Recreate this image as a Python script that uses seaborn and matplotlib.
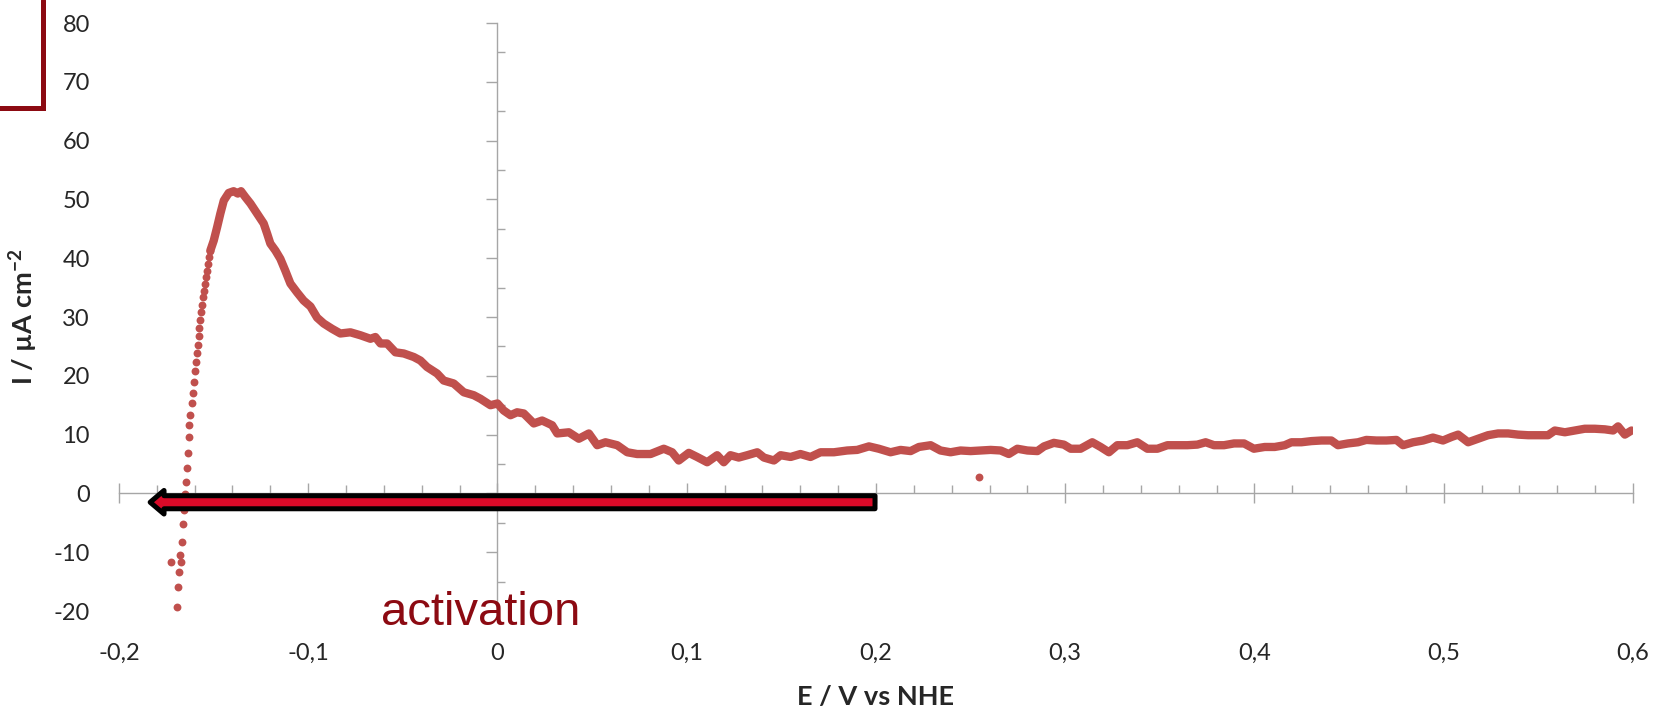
import matplotlib
matplotlib.use("Agg")
import matplotlib.pyplot as plt
from matplotlib.ticker import MultipleLocator
from matplotlib.lines import Line2D
import seaborn as sns
import pandas as pd

# sparse points of the steep rise at the start of the scan
rise_e = [-0.1693, -0.1686, -0.1681, -0.1672, -0.1676, -0.1667, -0.1661, -0.1656,
          -0.1653, -0.1651, -0.1647, -0.1642, -0.1637, -0.1632, -0.1628, -0.1623,
          -0.1614, -0.1611, -0.1605, -0.1600, -0.1593, -0.1587, -0.1582, -0.1579,
          -0.1575, -0.1570, -0.1565, -0.1559, -0.1556, -0.1550, -0.1545, -0.1540,
          -0.1534, -0.1529, -0.1524, -0.1517]
rise_i = [-19.3, -16.0, -13.4, -11.6, -10.5, -8.3, -5.2, -2.9,
          -1.5, -0.1, 2.0, 4.4, 6.9, 9.6, 11.6, 13.3,
          15.3, 17.0, 19.0, 20.9, 22.3, 23.8, 25.3, 26.8,
          28.1, 29.5, 30.8, 32.1, 33.4, 34.5, 35.7, 36.8,
          37.9, 39.1, 40.2, 41.3]

# stray points
stray_e = [-0.1723, 0.2544]
stray_i = [-11.6, 2.8]

# dense part of the scan
scan_e = [-0.1517, -0.1499, -0.1481, -0.1464, -0.1446, -0.1420, -0.1394, -0.1372,
          -0.1355, -0.1332, -0.1305, -0.1270, -0.1235, -0.1217, -0.1200, -0.1173,
          -0.1147, -0.1121, -0.1094, -0.1059, -0.1024, -0.0988, -0.0953, -0.0918,
          -0.0874, -0.0830, -0.0777, -0.0724, -0.0671, -0.0645, -0.0618, -0.0583,
          -0.0539, -0.0495, -0.0442, -0.0407, -0.0372, -0.0319, -0.0284, -0.0231,
          -0.0178, -0.0125, -0.0090, -0.0037, 0.0000, 0.0033, 0.0069, 0.0104,
          0.0139, 0.0192, 0.0236, 0.0289, 0.0316, 0.0377, 0.0430, 0.0483,
          0.0527, 0.0571, 0.0633, 0.0686, 0.0738, 0.0809, 0.0879, 0.0923,
          0.0958, 0.1011, 0.1055, 0.1108, 0.1161, 0.1196, 0.1231, 0.1275,
          0.1320, 0.1373, 0.1408, 0.1461, 0.1496, 0.1549, 0.1601, 0.1654,
          0.1707, 0.1778, 0.1848, 0.1901, 0.1963, 0.2015, 0.2077, 0.2130,
          0.2183, 0.2227, 0.2289, 0.2341, 0.2394, 0.2447, 0.2500, 0.2553,
          0.2606, 0.2659, 0.2702, 0.2747, 0.2800, 0.2853, 0.2888, 0.2940,
          0.2993, 0.3029, 0.3081, 0.3143, 0.3187, 0.3231, 0.3275, 0.3328,
          0.3381, 0.3434, 0.3487, 0.3540, 0.3593, 0.3645, 0.3698, 0.3742,
          0.3786, 0.3839, 0.3892, 0.3945, 0.3997, 0.4054, 0.4107, 0.4160,
          0.4195, 0.4248, 0.4301, 0.4354, 0.4406, 0.4441, 0.4494, 0.4547,
          0.4591, 0.4644, 0.4697, 0.4750, 0.4785, 0.4838, 0.4891, 0.4943,
          0.4996, 0.5041, 0.5076, 0.5129, 0.5181, 0.5234, 0.5287, 0.5340,
          0.5393, 0.5446, 0.5498, 0.5551, 0.5587, 0.5640, 0.5692, 0.5745,
          0.5798, 0.5851, 0.5895, 0.5921, 0.5957, 0.5992]
scan_i = [41.3, 43.0, 45.3, 47.6, 49.8, 51.1, 51.4, 51.0,
          51.4, 50.4, 49.3, 47.6, 45.9, 44.2, 42.5, 41.3,
          39.9, 37.9, 35.7, 34.2, 32.8, 31.8, 29.9, 28.9,
          28.0, 27.2, 27.4, 26.9, 26.3, 26.6, 25.5, 25.5,
          24.0, 23.8, 23.2, 22.6, 21.5, 20.4, 19.2, 18.7,
          17.2, 16.7, 16.1, 15.0, 15.3, 14.1, 13.3, 13.8,
          13.6, 11.9, 12.4, 11.6, 10.2, 10.4, 9.3, 10.2,
          8.2, 8.7, 8.2, 7.0, 6.7, 6.7, 7.6, 7.0,
          5.6, 6.9, 6.2, 5.3, 6.5, 5.3, 6.5, 6.1,
          6.5, 7.0, 6.1, 5.6, 6.5, 6.2, 6.7, 6.2,
          7.0, 7.0, 7.3, 7.4, 8.0, 7.6, 7.0, 7.4,
          7.2, 7.9, 8.2, 7.3, 7.0, 7.3, 7.2, 7.3,
          7.4, 7.3, 6.7, 7.6, 7.3, 7.2, 8.0, 8.6,
          8.3, 7.6, 7.6, 8.7, 7.9, 7.0, 8.2, 8.2,
          8.7, 7.6, 7.6, 8.2, 8.2, 8.2, 8.3, 8.7,
          8.2, 8.2, 8.5, 8.5, 7.6, 7.9, 7.9, 8.2,
          8.7, 8.7, 8.9, 9.0, 9.0, 8.2, 8.5, 8.7,
          9.1, 9.0, 9.0, 9.1, 8.2, 8.7, 9.0, 9.5,
          9.0, 9.6, 10.0, 8.7, 9.3, 9.9, 10.2, 10.2,
          10.0, 9.9, 9.9, 9.9, 10.7, 10.4, 10.7, 11.0,
          11.0, 10.9, 10.7, 11.4, 10.0, 10.7]

x_ticks = [-0.2, -0.1, 0.0, 0.1, 0.2, 0.3, 0.4, 0.5, 0.6]
x_tick_labels = ["-0,2", "-0,1", "0", "0,1", "0,2", "0,3", "0,4", "0,5", "0,6"]
y_ticks = [-20, -10, 0, 10, 20, 30, 40, 50, 60, 70, 80]
y_tick_labels = ["-20", "-10", "0", "10", "20", "30", "40", "50", "60", "70", "80"]

dot_color = "#c0504d"
axis_gray = "#a6a6a6"
dark_red = "#8c0a12"

sns.set_style("white")
plt.rcParams["font.family"] = ["Lato", "DejaVu Sans"]
plt.rcParams["mathtext.fontset"] = "custom"
plt.rcParams["mathtext.rm"] = "Lato"
plt.rcParams["mathtext.bf"] = "Lato:bold"

fig = plt.figure(figsize=(16.54, 7.09), dpi=100)
ax = fig.add_axes([0.0719, 0.1382, 0.9154, 0.8293])

scan = pd.DataFrame({"E": scan_e, "I": scan_i})
rise = pd.DataFrame({"E": rise_e + stray_e, "I": rise_i + stray_i})

sns.lineplot(data=scan, x="E", y="I", sort=False, estimator=None,
             color=dot_color, linewidth=6, ax=ax, zorder=3)
sns.scatterplot(data=rise, x="E", y="I", color=dot_color, s=32,
                linewidth=0, ax=ax, zorder=3)

ax.set_xlim(-0.2, 0.6)
ax.set_ylim(-20, 80)

# axes cross at zero, Excel style
for side in ["top", "right"]:
    ax.spines[side].set_visible(False)
for side in ["left", "bottom"]:
    ax.spines[side].set_position(("data", 0))
    ax.spines[side].set_color(axis_gray)
    ax.spines[side].set_linewidth(1.0)

ax.xaxis.set_major_locator(MultipleLocator(0.1))
ax.xaxis.set_minor_locator(MultipleLocator(0.02))
ax.yaxis.set_major_locator(MultipleLocator(10))
ax.yaxis.set_minor_locator(MultipleLocator(5))
ax.tick_params(which="both", bottom=True, left=True)
ax.tick_params(axis="x", which="major", direction="inout", length=14,
               width=1, color=axis_gray, labelbottom=False)
ax.tick_params(axis="x", which="minor", direction="in", length=6,
               width=1, color=axis_gray)
ax.tick_params(axis="y", which="major", direction="out", length=8,
               width=1, color=axis_gray, labelleft=False)
ax.tick_params(axis="y", which="minor", direction="in", length=6,
               width=1, color=axis_gray)

# tick labels sit at the outer edges of the plot
secx = ax.secondary_xaxis("bottom")
secx.set_xticks(x_ticks, labels=x_tick_labels)
secx.tick_params(length=0, pad=23, labelsize=17)
secx.spines["bottom"].set_visible(False)
secy = ax.secondary_yaxis("left")
secy.set_yticks(y_ticks, labels=y_tick_labels)
secy.tick_params(length=0, pad=21, labelsize=17)
secy.spines["left"].set_visible(False)

ax.set_xlabel("E / V vs NHE", fontsize=19.5, fontweight="bold")
ax.xaxis.set_label_coords(0.5, -0.125)
ax.set_ylabel(r"I / µA cm$^{\mathbf{-2}}$", fontsize=19.5, fontweight="bold")
ax.yaxis.set_label_coords(-0.052, 0.5)

ax.annotate("", xy=(-0.1835, -1.5), xytext=(0.1995, -1.5),
            arrowprops=dict(arrowstyle="simple,head_length=10,head_width=17,tail_width=9.4",
                            mutation_scale=1, fc="#da0a28", ec="black", lw=3.6,
                            joinstyle="round", shrinkA=0, shrinkB=0),
            zorder=5)
ax.text(-0.009, -22.3, "activation", color=dark_red, fontsize=34,
        family="Liberation Sans", ha="center", va="baseline", clip_on=False)

# frame corner in the top-left
fig.add_artist(Line2D([0.026, 0.026], [1.0, 0.8477], color=dark_red, lw=3.6,
                      solid_joinstyle="miter"))
fig.add_artist(Line2D([0.0, 0.026], [0.8477, 0.8477], color=dark_red, lw=3.6,
                      solid_capstyle="projecting"))

fig.savefig("out.png", dpi=100)
